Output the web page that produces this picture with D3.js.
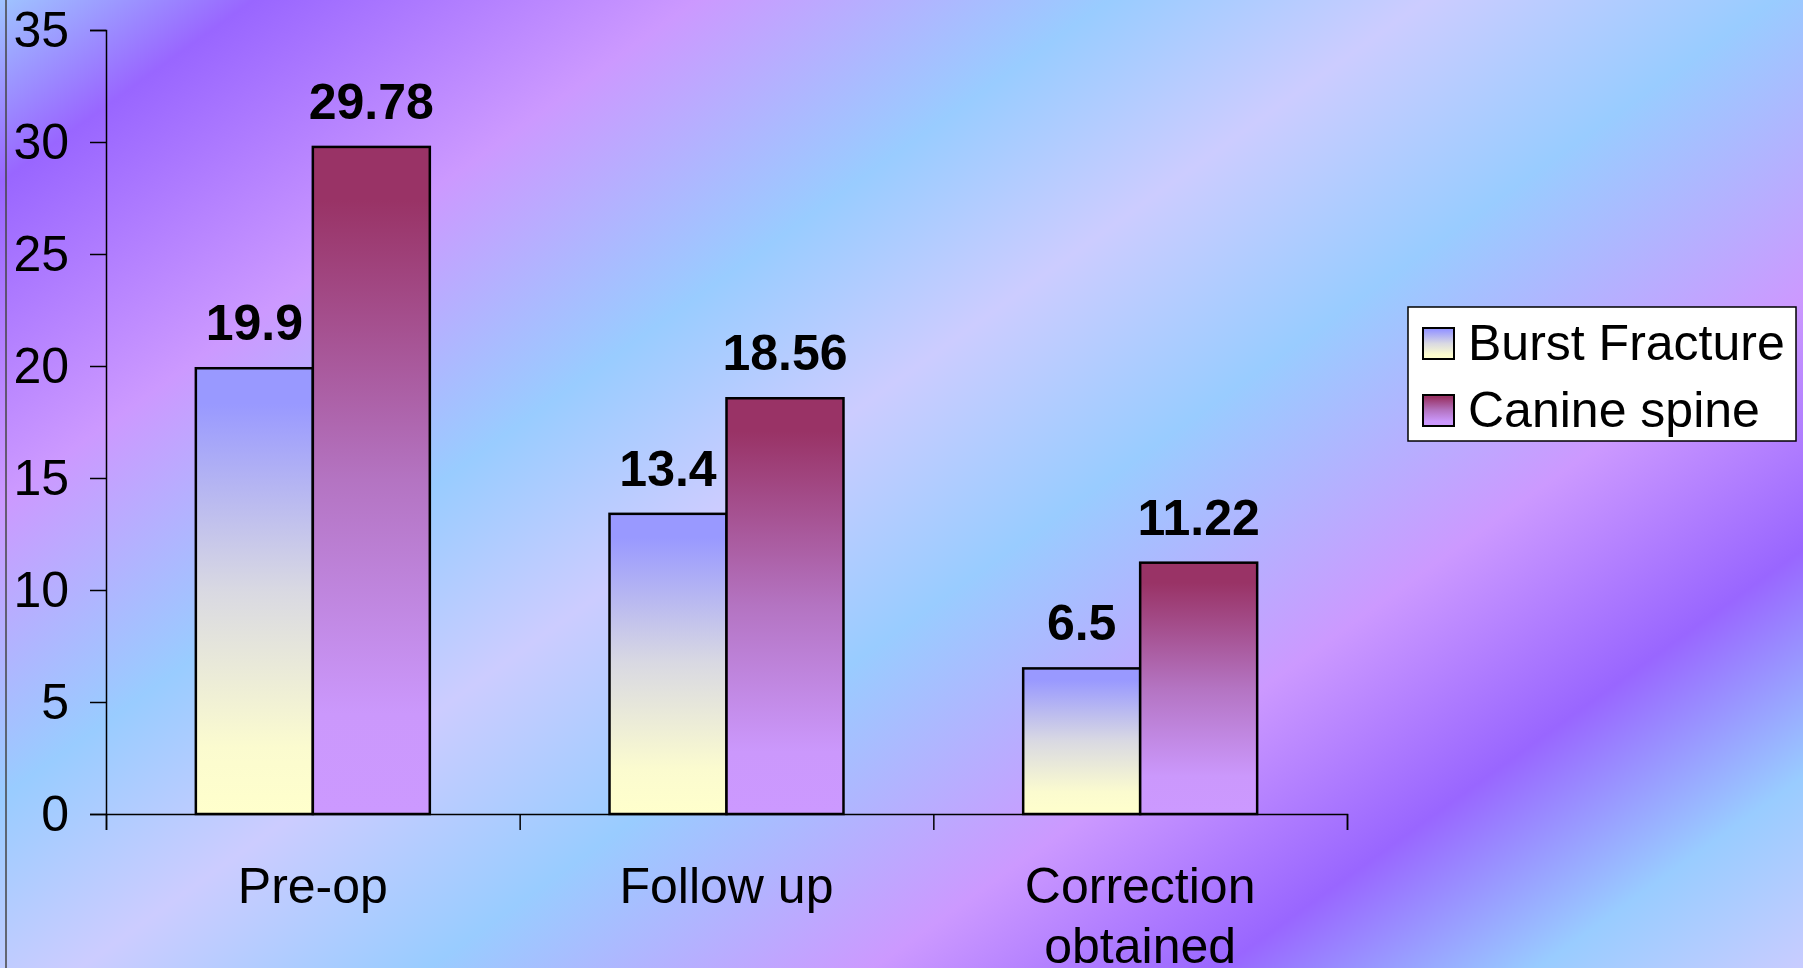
<!DOCTYPE html>
<html>
<head>
<meta charset="utf-8">
<title>Burst Fracture vs Canine spine</title>
<style>
  /* full window, no scroll bars */
  body, html { margin: 0; padding: 0; overflow: hidden; }
  svg { display: block; }
  text { font-family: 'Liberation Sans', Arial, sans-serif; fill: #000; }
</style>
</head>
<body>
<svg id="svg" width="1803" height="968"></svg>
<script src="https://d3js.org/d3.v7.min.js"></script>
<script>
// Chart data
const categories = ['Pre-op', 'Follow up', 'Correction obtained']
const seriesNames = ['Burst Fracture', 'Canine spine']
const burstValues = [19.9, 13.4, 6.5]
const canineValues = [29.78, 18.56, 11.22]
const yTicks = [0, 5, 10, 15, 20, 25, 30, 35]

const width = 1803
const height = 968
const plotLeft = 106, plotRight = 1347, plotTop = 30, plotBottom = 814
const fontSize = 50

const svg = d3.select('#svg')
const defs = svg.append('defs')

// background: diagonal bands of blue / violet
const bgStops = [
  [0, '#9fc4ff'], [0.08, '#9966ff'], [0.22, '#cc99ff'], [0.35, '#99ccff'],
  [0.45, '#ccccff'], [0.56, '#99ccff'], [0.70, '#cc99ff'], [0.81, '#9966ff'],
  [0.91, '#99ccff'], [1, '#ccccff']
]
const L = 1850
const bg = defs.append('linearGradient')
  .attr('id', 'bg')
  .attr('gradientUnits', 'userSpaceOnUse')
  .attr('x1', 0).attr('y1', 0)
  .attr('x2', 0.584 * L).attr('y2', 0.812 * L)
bg.selectAll('stop').data(bgStops).join('stop')
  .attr('offset', d => d[0])
  .attr('stop-color', d => d[1])

// vertical gradients for the two series
const barStops = {
  'Burst Fracture': [[0, '#9999ff'], [0.08, '#9999ff'], [0.5, '#d9d9e2'], [0.85, '#fbfbcf'], [1, '#ffffcc']],
  'Canine spine': [[0, '#993366'], [0.08, '#993366'], [0.5, '#b474c2'], [0.85, '#cb98fc'], [1, '#cc99ff']]
}
seriesNames.forEach((name, i) => {
  const g = defs.append('linearGradient')
    .attr('id', 'grad' + i)
    .attr('x1', 0).attr('y1', 0).attr('x2', 0).attr('y2', 1)
  g.selectAll('stop').data(barStops[name]).join('stop')
    .attr('offset', d => d[0])
    .attr('stop-color', d => d[1])
})

svg.append('rect')
  .attr('width', width).attr('height', height)
  .attr('fill', 'url(#bg)')

// thin border line on the left edge
svg.append('line')
  .attr('x1', 6).attr('x2', 6).attr('y1', 0).attr('y2', height)
  .attr('stroke', '#444').attr('stroke-width', 1.5)

// scales
const x0 = d3.scaleBand().domain(categories).range([plotLeft, plotRight])
const x1 = d3.scaleBand().domain(seriesNames)
  .range([0, x0.bandwidth()])
  .paddingOuter(0.768)
const y = d3.scaleLinear().domain([0, 35]).range([plotBottom, plotTop])

// y axis
const yAxis = svg.append('g')
  .attr('transform', `translate(${plotLeft},0)`)
  .call(d3.axisLeft(y).tickValues(yTicks).tickSize(16).tickPadding(21))
yAxis.select('.domain').attr('stroke', '#000').attr('stroke-width', 1.5)
yAxis.selectAll('.tick line').attr('stroke', '#000').attr('stroke-width', 1.5)
yAxis.selectAll('.tick text')
  .attr('font-size', fontSize)
  .attr('font-family', "'Liberation Sans', Arial, sans-serif")
  .attr('fill', '#000')

// x axis: ticks between the categories
const xTickScale = d3.scaleLinear().domain([0, categories.length]).range([plotLeft, plotRight])
const xAxis = svg.append('g')
  .attr('transform', `translate(0,${plotBottom})`)
  .call(d3.axisBottom(xTickScale)
    .tickValues(d3.range(categories.length + 1))
    .tickSize(16).tickSizeOuter(16)
    .tickFormat(''))
xAxis.select('.domain').attr('stroke', '#000').attr('stroke-width', 1.5)
xAxis.selectAll('.tick line').attr('stroke', '#000').attr('stroke-width', 1.5)

// category labels, wrapped like the original (second line runs off the bottom edge there too)
categories.forEach(c => {
  const words = c.split(' ')
  const lines = c.length > 12 ? words : [c]
  const t = svg.append('text')
    .attr('x', x0(c) + x0.bandwidth() / 2)
    .attr('y', plotBottom + 89)
    .attr('text-anchor', 'middle')
    .attr('font-size', fontSize)
  lines.forEach((ln, i) => {
    t.append('tspan')
      .attr('x', x0(c) + x0.bandwidth() / 2)
      .attr('dy', i === 0 ? 0 : 60)
      .text(ln)
  })
})

// bars
const rows = categories.map((c, i) => ({
  cat: c,
  vals: [
    { name: seriesNames[0], v: burstValues[i], idx: 0 },
    { name: seriesNames[1], v: canineValues[i], idx: 1 }
  ]
}))

const groups = svg.selectAll('.grp').data(rows).join('g')
  .attr('class', 'grp')
  .attr('transform', d => `translate(${x0(d.cat)},0)`)

groups.selectAll('rect').data(d => d.vals).join('rect')
  .attr('x', d => x1(d.name))
  .attr('y', d => y(d.v))
  .attr('width', x1.bandwidth())
  .attr('height', d => plotBottom - y(d.v))
  .attr('fill', d => `url(#grad${d.idx})`)
  .attr('stroke', '#000')
  .attr('stroke-width', 2.5)

groups.selectAll('text.val').data(d => d.vals).join('text')
  .attr('class', 'val')
  .attr('x', d => x1(d.name) + x1.bandwidth() / 2)
  .attr('y', d => y(d.v) - 28)
  .attr('text-anchor', 'middle')
  .attr('font-size', fontSize)
  .attr('font-weight', 'bold')
  .text(d => d.v)

// legend
const legend = svg.append('g').attr('transform', 'translate(1408,307)')
legend.append('rect')
  .attr('width', 388).attr('height', 134)
  .attr('fill', '#fff').attr('stroke', '#000').attr('stroke-width', 1.5)
seriesNames.forEach((name, i) => {
  legend.append('rect')
    .attr('x', 15).attr('y', 21 + i * 67)
    .attr('width', 31).attr('height', 31)
    .attr('fill', `url(#grad${i})`)
    .attr('stroke', '#000').attr('stroke-width', 2)
  legend.append('text')
    .attr('x', 60).attr('y', 53 + i * 67)
    .attr('font-size', fontSize)
    .text(name)
})
</script>
</body>
</html>
